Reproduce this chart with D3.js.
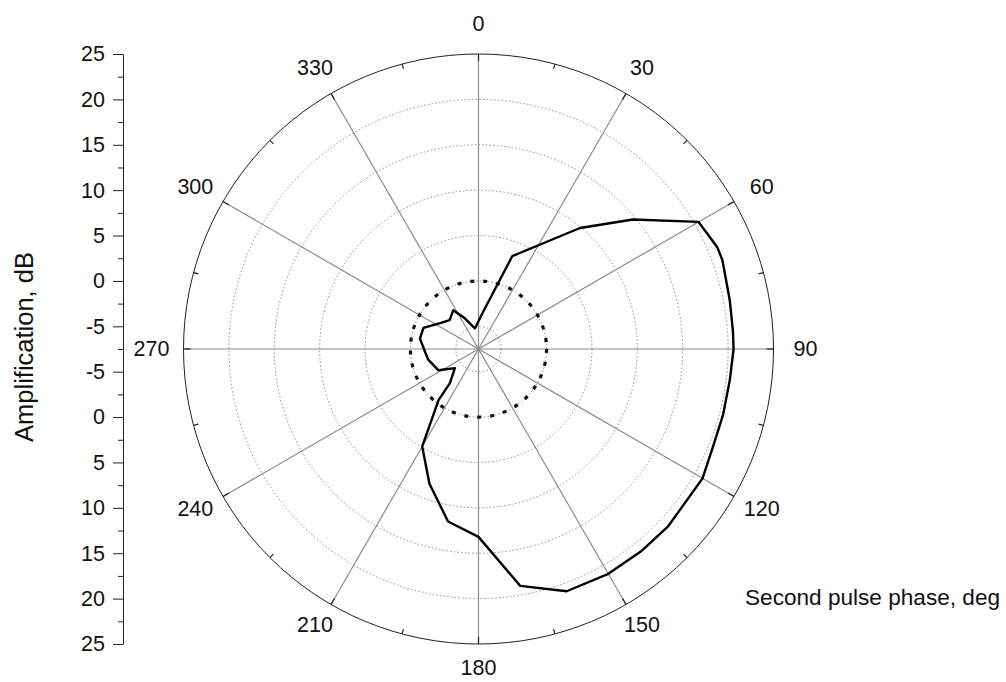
<!DOCTYPE html>
<html>
<head>
<meta charset="utf-8">
<script src="https://cdn.jsdelivr.net/npm/d3@7"></script>
<style>
  body { margin: 0; background: #fff; }
  svg { display: block; font-family: "Liberation Sans", Arial, sans-serif; }
</style>
</head>
<body>
<div id="chart"></div>
<script>
// measured curve: phase (deg) and amplification (dB)
const phaseDeg = [7, 20, 40, 50, 60, 67, 70, 79, 86, 90, 97, 105, 113, 120, 133, 141, 150, 160, 170, 180,
  190, 200, 210, 218, 220, 231, 242, 258, 267, 280, 291, 304, 315, 327, 336, 350];
const ampDb = [-3.4, 3.4, 9.9, 14.7, 20.5, 21.1, 21.1, 20.7, 20.6, 20.6, 20.4, 20.4, 20.5, 21.0, 21.1, 21.1, 21.1, 20.9, 19.0, 13.2,
  11.8, 8.3, 4.9, -0.35, -2.6, -4.15, -2.5, -1.84, -1.6, -0.95, -1.0, -2.4, -3.0, -2.4, -3.8, -5.2];

const refLevel = [0];                       // thick dotted 0 dB circle
const angleTicks = d3.range(0, 360, 30);    // labelled spokes
const minorAngles = d3.range(15, 360, 30);
const ringTicks = [-5, 0, 5, 10, 15, 20, 25];
const axisTicks = [-5, 0, 5, 10, 15, 20, 25];
const axisMinor = [-7.5, -2.5, 2.5, 7.5, 12.5, 17.5, 22.5];
const rMin = -7.5, rMax = 25;

const width = 1006, height = 682;
const cx = 478.5, cy = 349, R = 295;

const svg = d3.select("#chart").append("svg")
    .attr("width", width)
    .attr("height", height);

const r = d3.scaleLinear().domain([rMin, rMax]).range([0, R]);
const rad = d => d * Math.PI / 180;

const g = svg.append("g").attr("transform", `translate(${cx},${cy})`);

// grid rings (dotted grey)
g.selectAll("circle.ring")
    .data(ringTicks.slice(0, -1))
    .enter().append("circle")
    .attr("class", "ring")
    .attr("r", d => r(d))
    .attr("fill", "none")
    .attr("stroke", "#8a8a8a")
    .attr("stroke-width", 1)
    .attr("stroke-dasharray", "1.5,2.2");

// spokes
g.selectAll("line.spoke")
    .data(angleTicks)
    .enter().append("line")
    .attr("class", "spoke")
    .attr("x1", 0).attr("y1", 0)
    .attr("x2", d => R * Math.sin(rad(d)))
    .attr("y2", d => -R * Math.cos(rad(d)))
    .attr("stroke", "#8c8c8c")
    .attr("stroke-width", 1.2);

// outer circle
g.append("circle")
    .attr("r", r(rMax))
    .attr("fill", "none")
    .attr("stroke", "#222")
    .attr("stroke-width", 1);

// ticks on the outer circle, pointing inward
function ticks(data, len) {
    g.selectAll(null)
        .data(data)
        .enter().append("line")
        .attr("x1", d => R * Math.sin(rad(d)))
        .attr("y1", d => -R * Math.cos(rad(d)))
        .attr("x2", d => (R - len) * Math.sin(rad(d)))
        .attr("y2", d => -(R - len) * Math.cos(rad(d)))
        .attr("stroke", "#222")
        .attr("stroke-width", 1.2);
}
ticks(angleTicks, 7);
ticks(minorAngles, 5);

// angle labels
g.selectAll("text.ang")
    .data(angleTicks)
    .enter().append("text")
    .attr("class", "ang")
    .attr("x", d => (R + 32) * Math.sin(rad(d)))
    .attr("y", d => -(R + 27) * Math.cos(rad(d)) - 3 * Math.abs(Math.cos(rad(d))))
    .attr("text-anchor", "middle")
    .attr("dominant-baseline", "central")
    .attr("font-size", 21.5)
    .attr("fill", "#111")
    .text(d => d);

// 0 dB reference circle
g.selectAll("circle.ref")
    .data(refLevel)
    .enter().append("circle")
    .attr("class", "ref")
    .attr("r", d => r(d))
    .attr("fill", "none")
    .attr("stroke", "#111")
    .attr("stroke-width", 3.2)
    .attr("stroke-dasharray", "4,9");

// data curve
const pts = phaseDeg.map((a, i) => ({ a: a, v: ampDb[i] }));
const line = d3.lineRadial()
    .angle(d => rad(d.a))
    .radius(d => r(d.v))
    .curve(d3.curveLinearClosed);

g.append("path")
    .datum(pts)
    .attr("d", line)
    .attr("fill", "none")
    .attr("stroke", "#000")
    .attr("stroke-width", 2.4)
    .attr("stroke-linejoin", "round");

// left amplitude axis, mirrored around the centre
const axisX = 123;
const yTop = d3.scaleLinear().domain([rMin, rMax]).range([cy, cy - R]);
const yBot = d3.scaleLinear().domain([rMin, rMax]).range([cy, cy + R]);

[yTop, yBot].forEach(sc => {
    const ax = svg.append("g")
        .attr("transform", `translate(${axisX},0)`)
        .call(d3.axisLeft(sc).tickValues(axisTicks).tickFormat(d => String(d))
            .tickSize(10).tickPadding(8).tickSizeOuter(0));
    ax.select(".domain").attr("stroke", "#222");
    ax.selectAll(".tick line").attr("stroke", "#222");
    ax.selectAll("text").attr("font-size", 21.5).attr("fill", "#111")
        .attr("font-family", "Liberation Sans, Arial, sans-serif");
    const mn = svg.append("g")
        .attr("transform", `translate(${axisX},0)`)
        .call(d3.axisLeft(sc).tickValues(axisMinor).tickSize(5).tickFormat("").tickSizeOuter(0));
    mn.select(".domain").remove();
    mn.selectAll(".tick line").attr("stroke", "#222");
});

// axis titles
svg.append("text")
    .attr("transform", `translate(33,${cy - 2}) rotate(-90)`)
    .attr("text-anchor", "middle")
    .attr("font-size", 25.5)
    .attr("fill", "#111")
    .text("Amplification, dB");

svg.append("text")
    .attr("x", 745)
    .attr("y", 605)
    .attr("font-size", 22.6)
    .attr("fill", "#111")
    .text("Second pulse phase, deg");
</script>
</body>
</html>
